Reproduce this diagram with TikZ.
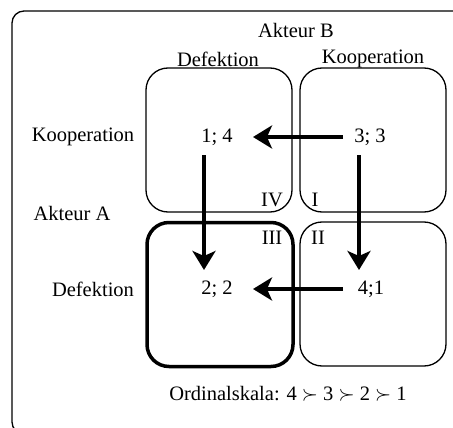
\documentclass[tikz,border=0pt]{standalone}
\usepackage{fontspec}
\setmainfont{Liberation Serif}
\usetikzlibrary{arrows.meta}
\begin{document}
\begin{tikzpicture}[x=1pt,y=-1pt,
  lbl/.style={font=\fontsize{20.5}{23}\selectfont, inner sep=0pt},
  cell/.style={draw, rounded corners=22pt, line width=1.3pt, minimum width=146pt, minimum height=144pt, inner sep=0pt},
  thickcell/.style={cell, line width=3.5pt},
  arr/.style={line width=3.6pt, -{Stealth[length=19pt,width=23pt,inset=5pt]}}]
\useasboundingbox (0,0) rectangle (453,428);
\begin{scope}
\clip (0,0) rectangle (453,428);
\draw[line width=1.3pt, rounded corners=12pt] (12,11) rectangle (490,434);
\end{scope}
\node[cell] (tl) at (219,140) {};
\node[cell] (tr) at (373,140) {};
\node[thickcell] (bl) at (220,294.5) {};
\node[cell] (br) at (373,294) {};

\node[lbl] (akb) at (296,30) {Akteur B};
\node[lbl] (cdef) at (218,59) {Defektion};
\node[lbl] (ckoop) at (373,59) {Kooperation};
\node[lbl] (rkoop) at (83,137) {Kooperation};
\node[lbl] (aka) at (72,213) {Akteur A};
\node[lbl] (rdef) at (93,289) {Defektion};

\node[lbl] (n14) at (217,137) {1; 4};
\node[lbl] (n33) at (370,137) {3; 3};
\node[lbl] (n22) at (217,289) {2; 2};
\node[lbl] (n41) at (371,289) {4;1};

\node[lbl] (iv) at (272,200) {IV};
\node[lbl] (i) at (315,200) {I};
\node[lbl] (iii) at (272,238) {III};
\node[lbl] (ii) at (318,238) {II};

\node[lbl] (ord) at (288,394) {Ordinalskala: 4 $\succ$ 3 $\succ$ 2 $\succ$ 1};

\draw[arr, shorten <=27pt, shorten >=36pt] (n33.center) -- (n14.center);
\draw[arr, shorten <=28pt, shorten >=36pt] (n41.center) -- (n22.center);
\draw[arr, shorten <=18pt, shorten >=19pt] ([xshift=-13pt]n14.center) -- ([xshift=-13pt]n22.center);
\draw[arr, shorten <=18pt, shorten >=19pt] ([xshift=-11pt]n33.center) -- ([xshift=-12pt]n41.center);
\end{tikzpicture}
\end{document}
